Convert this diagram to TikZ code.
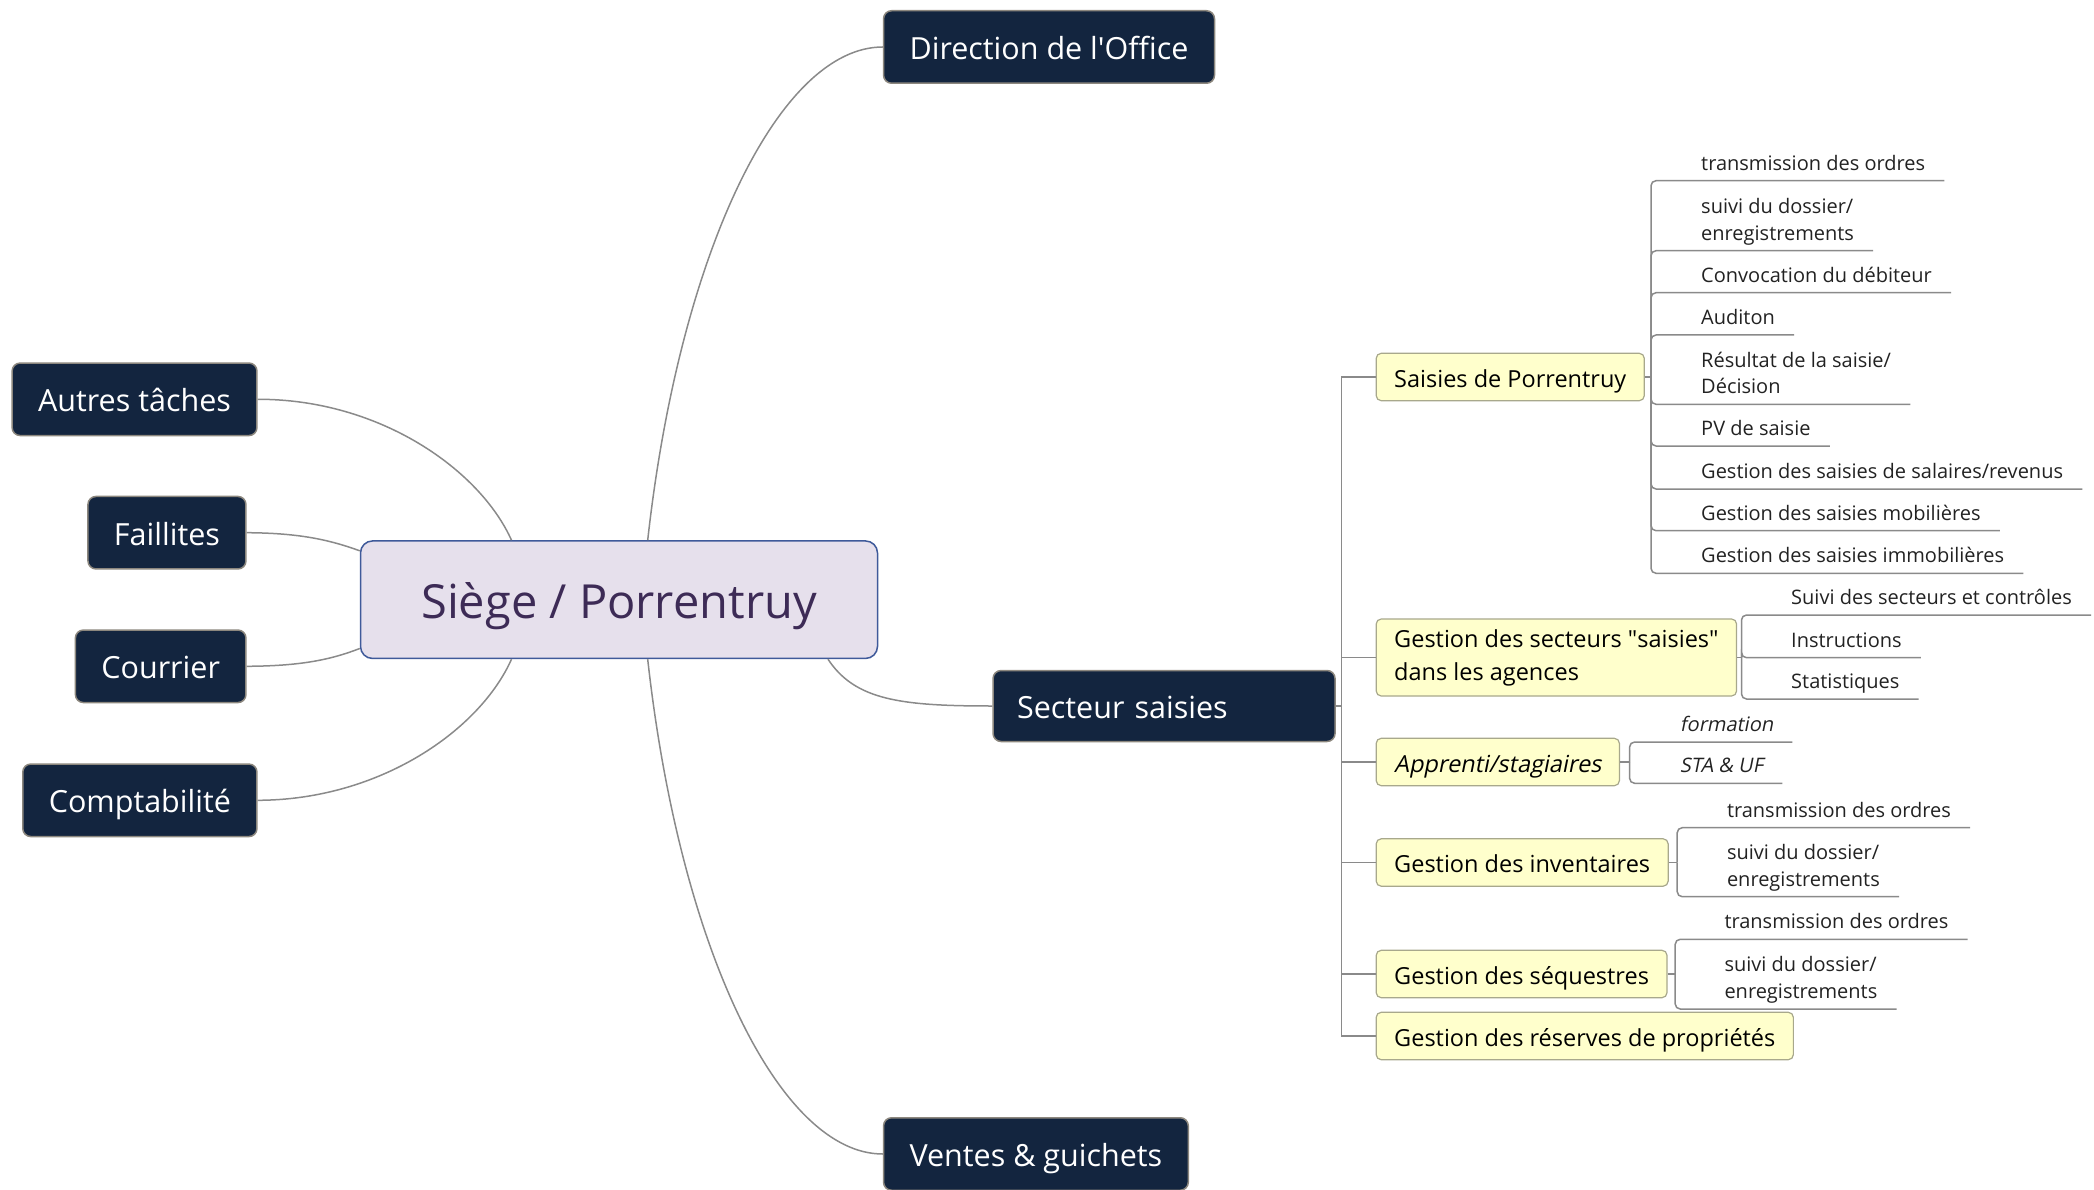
\documentclass[tikz,border=0pt]{standalone}
\usepackage{fontspec}
\setmainfont{Open Sans}
\newfontfamily\fslant{Open Sans}[FakeSlant=0.2]
\usetikzlibrary{calc}
\definecolor{navy}{HTML}{13253F}
\definecolor{navyborder}{HTML}{8C877E}
\definecolor{yel}{HTML}{FFFFCC}
\definecolor{yelborder}{HTML}{A8A88C}
\definecolor{lav}{HTML}{E6E0EC}
\definecolor{lavborder}{HTML}{3F5A9A}
\definecolor{lavtext}{HTML}{3D2B56}
\definecolor{conncol}{HTML}{8A8A8A}
\definecolor{leaftext}{HTML}{222222}
\newcommand{\lv}[1]{\begin{tabular}[b]{@{}l@{}}#1\end{tabular}}
\tikzset{
  root/.style={draw=lavborder, fill=lav, line width=1.5pt, rounded corners=12pt, text=lavtext,
    font=\fontsize{47}{56}\selectfont, minimum width=517pt, minimum height=117.5pt, inner sep=0pt,
    text height=44pt, text depth=6.8pt},
  topic/.style={draw=navyborder, fill=navy, line width=1.5pt, rounded corners=8pt, text=white,
    font=\fontsize{30.5}{37}\selectfont, inner xsep=26pt, inner ysep=0pt, minimum height=72.5pt,
    text height=28pt, text depth=3.4pt},
  subbase/.style={draw=yelborder, fill=yel, line width=1.2pt, rounded corners=5pt, text=black,
    font=\fontsize{23.5}{33}\selectfont, inner xsep=18pt, inner ysep=10pt, minimum height=44pt,
    align=left, anchor=west},
  sub/.style={subbase, text height=24pt, text depth=3.4pt},
  leaf/.style={inner sep=0pt, anchor=base west, font=\fontsize{20}{26.7}\selectfont, text=leaftext},
  ileaf/.style={leaf, font=\fslant\fontsize{20}{26.7}\selectfont},
  link/.style={draw=conncol, line width=1.5pt},
  leaflink/.style={draw=conncol, line width=1.5pt, rounded corners=5pt},
}
\begin{document}
\begin{tikzpicture}[x=1pt,y=-1pt]
\useasboundingbox (0,0) rectangle (2094,1190);

% central and main topics
\node[root] (root) at (619,599.7) {Siège / Porrentruy};
\node[topic, anchor=west] (dir) at (882.8,47) {Direction de l\textquotesingle Office};
\node[topic, anchor=west] (ventes) at (882.8,1154) {Ventes \& guichets};
\node[topic, anchor=west, text width=294pt, inner xsep=24pt, align=left, minimum height=71pt] (secteur) at (992.3,706) {Secteur saisies};
\node[topic, anchor=east] (autres) at (257.7,399.3) {Autres tâches};
\node[topic, anchor=east] (faillites) at (246.7,532.7) {Faillites};
\node[topic, anchor=east] (courrier) at (246.7,666.3) {Courrier};
\node[topic, anchor=east] (compta) at (257.7,800.3) {Comptabilité};

% curved connectors
\draw[link] ([xshift=28.7pt]root.north) .. controls (680,250) and (780,47) .. (dir.west);
\draw[link] ([xshift=28.7pt]root.south) .. controls (680,950) and (780,1154) .. (ventes.west);
\draw[link] ([xshift=209pt]root.south) .. controls (855,700) and (900,706) .. (secteur.west);
\draw[link] (autres.east) .. controls (380,399) and (480,470) .. ([xshift=-107.5pt]root.north);
\draw[link] (faillites.east) .. controls (300,533) and (330,540) .. ([yshift=-10.6pt]root.north west);
\draw[link] (courrier.east) .. controls (300,666) and (330,660) .. ([yshift=10.7pt]root.south west);
\draw[link] (compta.east) .. controls (380,800) and (480,730) .. ([xshift=-107.5pt]root.south);

% second level
\node[sub] (s1) at (1375.6,377) {Saisies de Porrentruy};
\node[subbase, minimum height=77pt] (s2) at (1375.6,657.5) {Gestion des secteurs \textquotedbl saisies\textquotedbl\\dans les agences};
\node[sub, font=\fslant\fontsize{23.5}{33}\selectfont] (s3) at (1375.6,762) {Apprenti/stagiaires};
\node[sub] (s4) at (1375.6,862.5) {Gestion des inventaires};
\node[sub] (s5) at (1375.6,974) {Gestion des séquestres};
\node[sub] (s6) at (1375.6,1036) {Gestion des réserves de propriétés};

\coordinate (st) at (1341.5,706);
\draw[link] (secteur.east) -- (st);
\foreach \s in {s1,s2,s3,s4,s5,s6} \draw[link] (st) |- (\s.west);

% leaf stubs
\coordinate (spA) at (1651,377);
\coordinate (spB) at (1741.5,657.5);
\coordinate (spC) at (1629.6,762);
\coordinate (spD) at (1677.2,862.5);
\coordinate (spE) at (1675.2,974);
\draw[link] (s1.east) -- (spA);
\draw[link] (s2.east) -- (spB);
\draw[link] (s3.east) -- (spC);
\draw[link] (s4.east) -- (spD);
\draw[link] (s5.east) -- (spE);

% leaves
\node[leaf] (a1) at (1701,170.2) {\lv{transmission des ordres}};
\node[leaf] (a2) at (1701,240.2) {\lv{suivi du dossier/\\enregistrements}};
\node[leaf] (a3) at (1701,282.2) {\lv{Convocation du débiteur}};
\node[leaf] (a4) at (1701,324.5) {\lv{Auditon}};
\node[leaf] (a5) at (1701,393.8) {\lv{Résultat de la saisie/\\Décision}};
\node[leaf] (a6) at (1701,435.5) {\lv{PV de saisie}};
\node[leaf] (a7) at (1701,478.5) {\lv{Gestion des saisies de salaires/revenus}};
\node[leaf] (a8) at (1701,520.2) {\lv{Gestion des saisies mobilières}};
\node[leaf] (a9) at (1701,562.8) {\lv{Gestion des saisies immobilières}};

\node[leaf] (b1) at (1791,604.5) {\lv{Suivi des secteurs et contrôles}};
\node[leaf] (b2) at (1791,647.2) {\lv{Instructions}};
\node[leaf] (b3) at (1791,688.5) {\lv{Statistiques}};

\node[ileaf] (c1) at (1679.7,731.5) {\lv{formation}};
\node[ileaf] (c2) at (1679.7,772.8) {\lv{STA \& UF}};

\node[leaf] (d1) at (1726.8,817.2) {\lv{transmission des ordres}};
\node[leaf] (d2) at (1726.8,886.2) {\lv{suivi du dossier/\\enregistrements}};

\node[leaf] (e1) at (1724.3,928.8) {\lv{transmission des ordres}};
\node[leaf] (e2) at (1724.3,998.5) {\lv{suivi du dossier/\\enregistrements}};

\foreach \l in {a1,a2,a3,a4,a5,a6,a7,a8,a9}
  \draw[leaflink] (spA) |- ([yshift=-10.5pt]\l.base west) -- ([xshift=19pt,yshift=-10.5pt]\l.base east);
\foreach \l in {b1,b2,b3}
  \draw[leaflink] (spB) |- ([yshift=-10.5pt]\l.base west) -- ([xshift=19pt,yshift=-10.5pt]\l.base east);
\foreach \l in {c1,c2}
  \draw[leaflink] (spC) |- ([yshift=-10.5pt]\l.base west) -- ([xshift=19pt,yshift=-10.5pt]\l.base east);
\foreach \l in {d1,d2}
  \draw[leaflink] (spD) |- ([yshift=-10.5pt]\l.base west) -- ([xshift=19pt,yshift=-10.5pt]\l.base east);
\foreach \l in {e1,e2}
  \draw[leaflink] (spE) |- ([yshift=-10.5pt]\l.base west) -- ([xshift=19pt,yshift=-10.5pt]\l.base east);
\end{tikzpicture}
\end{document}
